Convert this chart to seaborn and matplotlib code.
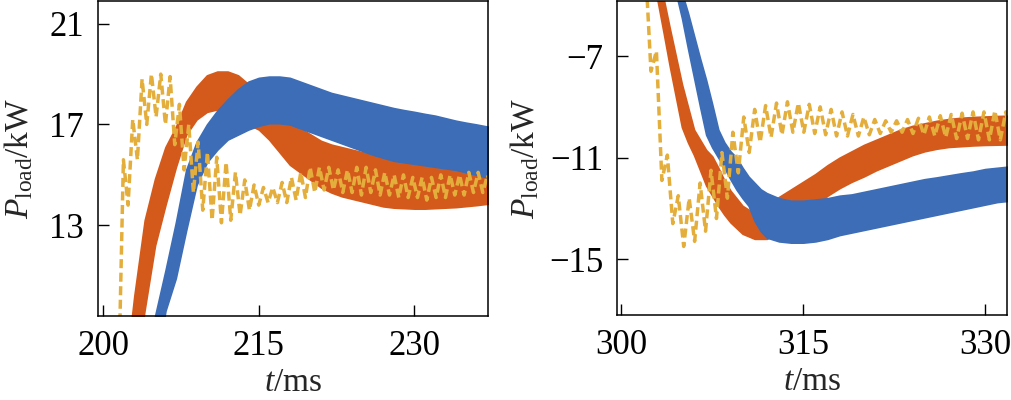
import numpy as np
import pandas as pd
import matplotlib
matplotlib.use("Agg")
import matplotlib.pyplot as plt
import seaborn as sns

# ---------------- data ----------------
# colours
C_ORANGE = "#D45A1C"
C_BLUE = "#3C6DB6"
C_YELLOW = "#E4AE3C"

# Left panel (t in ms, P in kW)
orange_l_t = [202.5, 203.0] + list(range(204, 239))
orange_l_hi = [8.4, 10.2, 13.2, 14.85, 16.1, 16.9, 17.9, 18.5, 18.95, 19.1, 19.1, 18.95,
               18.6, 18.2, 17.8, 17.4, 17.05, 16.85, 16.6, 16.35, 16.2, 16.1, 16.0, 15.9,
               15.8, 15.75, 15.7, 15.65, 15.6, 15.55, 15.5, 15.45, 15.4, 15.35, 15.3, 15.25, 15.2]
orange_l_lo = [7.0, 7.0, 9.65, 12.2, 13.8, 15.3, 16.6, 17.2, 17.5, 17.6, 17.6, 17.4,
               17.0, 16.8, 16.4, 15.9, 15.4, 15.1, 14.8, 14.5, 14.3, 14.15, 14.05, 13.95,
               13.85, 13.75, 13.7, 13.68, 13.66, 13.66, 13.68, 13.7, 13.72, 13.76, 13.8, 13.85, 13.9]

blue_l_t = [204.5, 205.0] + list(range(206, 239))
blue_l_hi = [8.4, 9.4, 11.2, 13.1, 15.2, 16.3, 17.0, 17.55, 18.0, 18.4, 18.7, 18.85,
             18.9, 18.9, 18.85, 18.7, 18.55, 18.4, 18.25, 18.15, 18.05, 17.95, 17.85, 17.75,
             17.65, 17.57, 17.5, 17.42, 17.35, 17.25, 17.15, 17.07, 17.0, 16.92, 16.85]
blue_l_lo = [7.0, 7.0, 9.6, 10.9, 12.8, 14.6, 15.5, 16.0, 16.4, 16.6, 16.8, 16.95,
             17.05, 17.05, 17.0, 16.85, 16.7, 16.55, 16.4, 16.25, 16.1, 15.95, 15.8, 15.68,
             15.56, 15.5, 15.44, 15.38, 15.32, 15.26, 15.2, 15.1, 15.0, 14.9, 14.85]

yellow_l_t0, yellow_l_dt = 201.5, 0.45
yellow_l_p = [7.0, 15.6, 13.8, 17.2, 15.6, 18.8, 17.0, 19.0, 17.3, 19.0, 17.0, 18.9,
              16.2, 17.8, 15.2, 17.0, 14.3, 16.3, 13.6, 15.9, 13.2, 15.7, 13.1, 15.5,
              13.2, 15.1, 13.4, 14.8, 13.6, 14.6, 13.8, 14.5, 13.9, 14.5, 13.9, 14.7,
              13.9, 14.9, 14.0, 15.1, 14.1, 15.3, 14.3, 15.3, 14.4, 15.3, 14.4, 15.2,
              14.3, 15.2, 14.3, 15.3, 14.2, 15.3, 14.3, 15.2, 14.2, 15.1, 14.2, 15.0,
              14.1, 15.0, 14.1, 14.9, 14.1, 14.9, 14.0, 14.9, 14.1, 15.0, 14.1, 15.0,
              14.2, 15.0, 14.2, 15.1, 14.3, 15.1, 14.3, 15.0, 14.4]

# Right panel
orange_r_t = [302.5, 303.0, 303.5, 304.0, 304.5, 305.0, 305.5, 306.0, 306.5, 307.0,
              307.5, 308.0, 308.5, 309.0] + list(range(310, 333))
orange_r_hi = [-3.0, -3.8, -4.75, -5.9, -7.0, -8.1, -9.0, -9.9, -10.3, -10.7, -10.95,
               -11.4, -11.9, -12.3, -12.9, -13.2, -12.9, -12.55, -12.25, -11.95, -11.65,
               -11.3, -11.0, -10.75, -10.5, -10.3, -10.1, -9.9, -9.75, -9.65, -9.55,
               -9.48, -9.43, -9.4, -9.38, -9.36, -9.35]
orange_r_lo = [-4.0, -4.83, -6.1, -7.4, -8.6, -9.8, -10.4, -10.9, -11.5, -12.1, -12.5,
               -12.9, -13.25, -13.55, -14.0, -14.2, -14.2, -14.0, -13.6, -13.3, -12.9,
               -12.5, -12.2, -11.95, -11.74, -11.5, -11.3, -11.1, -10.9, -10.75, -10.65,
               -10.58, -10.55, -10.52, -10.5, -10.49, -10.48]

blue_r_t = [304.5, 305.0, 305.5, 306.0, 306.5, 307.0, 307.5, 308.0, 308.5, 309.0,
            309.5, 310.0, 310.5, 311.0, 311.5, 312.0] + list(range(313, 333))
blue_r_hi = [-3.8, -4.5, -5.3, -6.2, -7.1, -7.95, -8.9, -9.9, -10.4, -10.75, -11.0,
             -11.4, -11.75, -12.0, -12.25, -12.4, -12.6, -12.7, -12.7, -12.65, -12.6,
             -12.5, -12.45, -12.35, -12.25, -12.15, -12.05, -11.95, -11.85, -11.78,
             -11.7, -11.62, -11.55, -11.45, -11.4, -11.35]
blue_r_lo = [-4.5, -5.5, -6.7, -7.85, -9.0, -10.1, -10.6, -11.0, -11.4, -11.85, -12.26,
             -12.6, -12.9, -13.5, -13.9, -14.15, -14.3, -14.35, -14.35, -14.3, -14.2,
             -14.05, -13.95, -13.85, -13.75, -13.65, -13.55, -13.45, -13.35, -13.25,
             -13.15, -13.05, -12.95, -12.85, -12.75, -12.7]

yellow_r_t0, yellow_r_dt = 302.0, 0.45
yellow_r_p = [-3.5, -7.6, -6.8, -11.9, -10.9, -13.6, -12.5, -14.5, -12.6, -14.3, -12.0,
              -13.9, -11.5, -13.4, -10.8, -12.6, -10.0, -11.6, -9.4, -10.8, -9.1, -10.4,
              -8.95, -10.2, -8.85, -10.1, -8.8, -10.0, -8.85, -10.0, -8.9, -10.05, -9.0,
              -10.1, -9.1, -10.15, -9.2, -10.15, -9.3, -10.15, -9.4, -10.1, -9.5, -10.05,
              -9.55, -10.0, -9.55, -10.0, -9.5, -10.05, -9.45, -10.1, -9.4, -10.15, -9.35,
              -10.2, -9.3, -10.25, -9.25, -10.25, -9.2, -10.3, -9.2, -10.3, -9.15, -10.3,
              -9.2, -10.25]

left_xticks = [200, 215, 230]
left_yticks = [13, 17, 21]
right_xticks = [300, 315, 330]
right_yticks = [-7, -11, -15]
left_xlim, left_ylim = (199.5, 237.1), (9.4, 21.9)
right_xlim, right_ylim = (299.65, 331.8), (-17.2, -4.83)

# ---------------- style ----------------
sns.set_theme(style="white")
plt.rcParams.update({
    "font.family": ["Liberation Serif", "DejaVu Serif"],
    "mathtext.fontset": "custom",
    "mathtext.rm": "Liberation Serif",
    "mathtext.it": "Liberation Serif:italic",
    "axes.edgecolor": "black",
    "axes.linewidth": 1.1,
    "axes.facecolor": "white",
    "figure.facecolor": "white",
})

fig = plt.figure(figsize=(10.12, 4.0), dpi=100)
ax1 = fig.add_axes([98 / 1012, 84 / 400, 390 / 1012, 315 / 400])
ax2 = fig.add_axes([617 / 1012, 85 / 400, 390 / 1012, 314 / 400])


def band(ax, t, lo, hi, color, z):
    df = pd.DataFrame({"t": list(t) * 2, "p": list(lo) + list(hi)})
    sns.lineplot(data=df, x="t", y="p", ax=ax, color=color,
                 errorbar=("pi", 100),
                 err_kws={"alpha": 1, "linewidth": 1.2, "edgecolor": color,
                          "zorder": z},
                 linewidth=0, zorder=z)


def dashed(ax, t0, dt, p, color):
    t = t0 + dt * np.arange(len(p))
    sns.lineplot(x=t, y=p, ax=ax, color=color, estimator=None, sort=False,
                 linewidth=2.5, linestyle=(0, (2.6, 1.3)), zorder=3)


for ax, (ot, olo, ohi), (bt, blo, bhi), (yt0, ydt, yp), xt, yt, xl, yl in [
    (ax1, (orange_l_t, orange_l_lo, orange_l_hi), (blue_l_t, blue_l_lo, blue_l_hi),
     (yellow_l_t0, yellow_l_dt, yellow_l_p), left_xticks, left_yticks, left_xlim, left_ylim),
    (ax2, (orange_r_t, orange_r_lo, orange_r_hi), (blue_r_t, blue_r_lo, blue_r_hi),
     (yellow_r_t0, yellow_r_dt, yellow_r_p), right_xticks, right_yticks, right_xlim, right_ylim),
]:
    band(ax, ot, olo, ohi, C_ORANGE, 1.0)
    band(ax, bt, blo, bhi, C_BLUE, 1.5)
    dashed(ax, yt0, ydt, yp, C_YELLOW)
    ax.set_xlim(*xl)
    ax.set_ylim(*yl)
    ax.set_xticks(xt)
    ax.set_yticks(yt)
    ax.tick_params(direction="in", length=8, width=1.0, labelsize=25, pad=10,
                   bottom=True, left=True, top=False, right=False, colors="black")
    for s in ax.spines.values():
        s.set_visible(True)
        s.set_color("black")
        s.set_linewidth(1.1)
        s.set_zorder(5)
    ax.set_xlabel(r"$t$/ms", fontsize=24)
    ax.set_ylabel(r"$P_{\mathrm{load}}$/kW", fontsize=24)
    ax.xaxis.set_label_coords(0.5, -0.165)

ax1.yaxis.set_label_coords(-0.1615, 0.5)
ax2.yaxis.set_label_coords(-0.195, 0.5)

fig.savefig("out.png", dpi=100)
